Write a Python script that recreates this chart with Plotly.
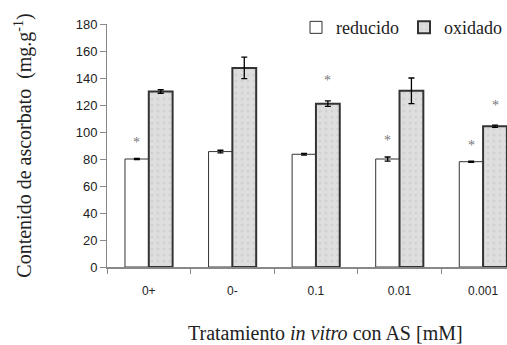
import plotly.graph_objects as go

categories = ["0+", "0-", "0.1", "0.01", "0.001"]
reducido = [80, 85.5, 83.5, 80, 78]
reducido_err = [0.4, 1.0, 0.6, 1.5, 0.4]
oxidado = [130, 147.5, 121, 130.5, 104.3]
oxidado_err = [1.3, 8, 2, 9.5, 0.8]
sig_reducido = [True, False, False, True, True]
sig_oxidado = [False, False, True, False, True]

serif = "Liberation Serif, Times New Roman, serif"
sans = "Liberation Sans, Arial, sans-serif"

fig = go.Figure()
fig.add_trace(go.Bar(
    name="reducido", x=categories, y=reducido,
    marker=dict(color="white", line=dict(color="#333", width=1)),
    error_y=dict(type="data", array=reducido_err, color="black", thickness=1.3, width=3),
))
fig.add_trace(go.Bar(
    name="oxidado", x=categories, y=oxidado,
    marker=dict(color="#dedede", line=dict(color="#333", width=2),
                pattern=dict(shape=".", fgcolor="#c4c4c4", size=6, solidity=0.2)),
    error_y=dict(type="data", array=oxidado_err, color="black", thickness=1.3, width=3),
))

# significance asterisks (x given as category index)
for i in range(len(categories)):
    if sig_reducido[i]:
        fig.add_annotation(x=i, y=reducido[i] + reducido_err[i], xref="x", yref="y",
                           text="*", showarrow=False, xshift=-12, yshift=16,
                           font=dict(family=serif, size=14, color="#777"))
    if sig_oxidado[i]:
        fig.add_annotation(x=i, y=oxidado[i] + oxidado_err[i], xref="x", yref="y",
                           text="*", showarrow=False, xshift=12, yshift=20,
                           font=dict(family=serif, size=14, color="#777"))

fig.add_annotation(text="Tratamiento <i>in vitro</i> con AS [mM]", xref="paper", yref="paper",
                   x=0.545, y=-0.272, xanchor="center", yanchor="middle", showarrow=False,
                   font=dict(family=serif, size=20, color="#222"))

fig.update_layout(
    width=507, height=345,
    margin=dict(l=107, r=0, t=24, b=78),
    paper_bgcolor="white", plot_bgcolor="white",
    font=dict(family=serif),
    barmode="group", bargap=0.43, bargroupgap=0,
    showlegend=True,
    legend=dict(orientation="h", x=1.0, xanchor="right", y=0.985, yanchor="middle",
                font=dict(family=serif, size=18, color="#222"), itemwidth=30,
                tracegroupgap=0, bgcolor="rgba(0,0,0,0)", traceorder="normal"),
    xaxis=dict(type="category", range=[-0.5, 4.286], tickson="boundaries",
               showline=True, linecolor="#888", linewidth=1.5, ticks="outside",
               ticklen=5, tickcolor="#888", showgrid=False,
               tickfont=dict(family=sans, size=12, color="#222"), ticklabelstandoff=12),
    yaxis=dict(range=[0, 180], dtick=20, showline=True, linecolor="#888", linewidth=1,
               ticks="outside", ticklen=6, tickcolor="#888", showgrid=False,
               tickfont=dict(family=sans, size=13, color="#222"),
               title=dict(text="Contenido de ascorbato  (mg.g<sup>-1</sup>)",
                          font=dict(family=serif, size=20, color="#222"), standoff=38)),
)

fig.write_html("out.html")
